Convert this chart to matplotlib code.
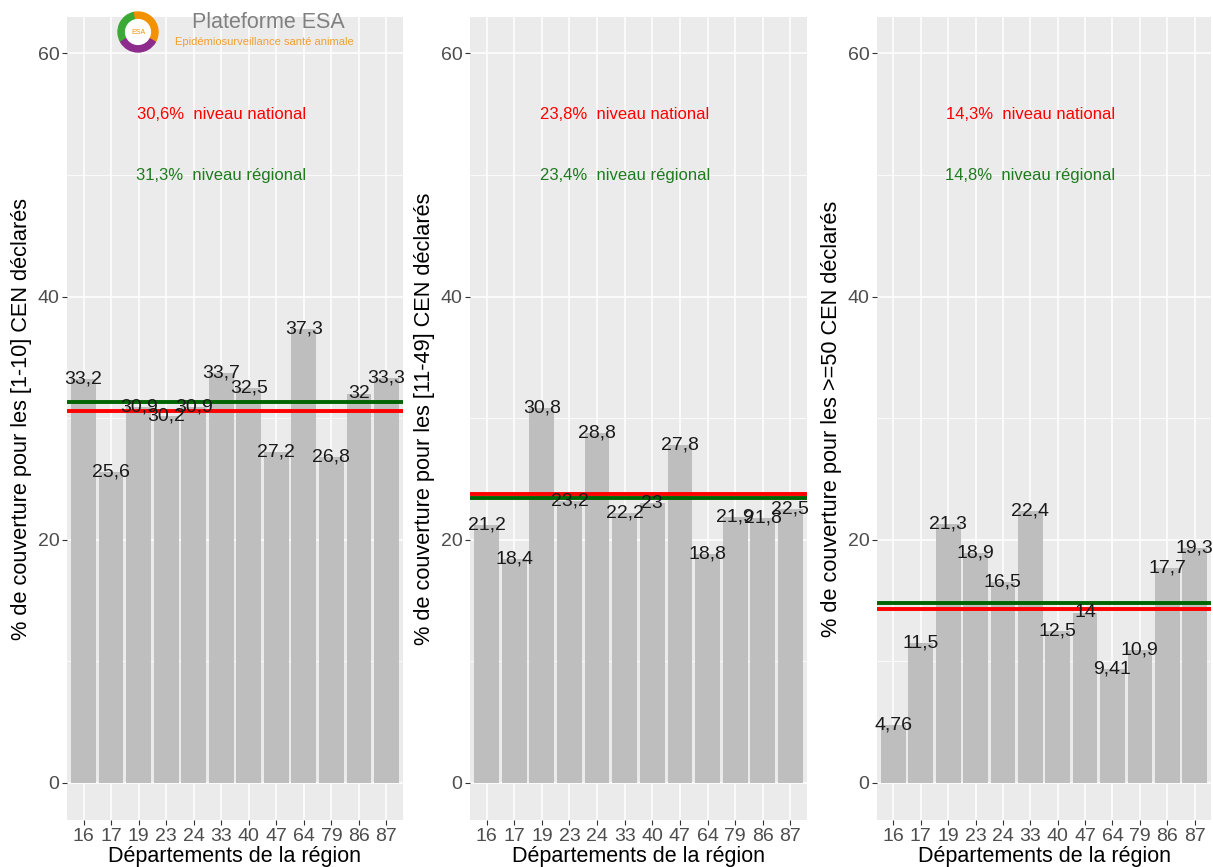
import matplotlib
matplotlib.use('Agg')
import matplotlib.pyplot as plt
from matplotlib.patches import Wedge, Circle
import numpy as np

plt.rcParams['font.family'] = ['Liberation Sans', 'DejaVu Sans']

depts = ['16', '17', '19', '23', '24', '33', '40', '47', '64', '79', '86', '87']

# couverture par tranche de CEN declares
cov_1_10 = [33.2, 25.6, 30.9, 30.2, 30.9, 33.7, 32.5, 27.2, 37.3, 26.8, 32, 33.3]
cov_11_49 = [21.2, 18.4, 30.8, 23.2, 28.8, 22.2, 23, 27.8, 18.8, 21.9, 21.8, 22.5]
cov_50 = [4.76, 11.5, 21.3, 18.9, 16.5, 22.4, 12.5, 14, 9.41, 10.9, 17.7, 19.3]

national = [30.6, 23.8, 14.3]
regional = [31.3, 23.4, 14.8]

ylabels = ['% de couverture pour les [1-10] CEN déclarés',
           '% de couverture pour les [11-49] CEN déclarés',
           '% de couverture pour les >=50 CEN déclarés']

def fmt(v):
    s = ('%.3g' % v).replace('.', ',')
    return s

W, H = 1213., 867.
fig = plt.figure(figsize=(W / 100, H / 100), dpi=100)

panels = [(67, 403), (470, 807), (877, 1211)]
bottom = 1 - 820 / H
height = (820 - 17) / H

allvals = [cov_1_10, cov_11_49, cov_50]
for k in range(3):
	l, r = panels[k]
	ax = fig.add_axes([l / W, bottom, (r - l) / W, height])
	ax.set_facecolor('#EBEBEB')
	for s in ax.spines.values():
		s.set_visible(False)
	x = np.arange(1, len(depts) + 1)
	ax.set_xlim(0.4, 12.6)
	ax.set_ylim(-3.05, 63)
	ax.set_yticks([0, 20, 40, 60])
	ax.set_yticks([10, 30, 50], minor=True)
	ax.set_xticks(x)
	ax.set_xticklabels(depts)
	ax.grid(True, which='major', color='white', lw=1.1)
	ax.grid(True, which='minor', axis='y', color='white', lw=0.55)
	ax.set_axisbelow(True)
	ax.tick_params(axis='both', which='major', labelsize=14, labelcolor='#4D4D4D',
	               color='#333333', length=3.5, width=0.8, pad=2)
	ax.tick_params(which='minor', length=0)
	ax.bar(x, allvals[k], width=0.9, color='#BEBEBE', zorder=2)
	ax.axhline(regional[k], color='#006400', lw=2.8, zorder=3)
	ax.axhline(national[k], color='#FF0000', lw=2.8, zorder=3)
	for xi, v in zip(x, allvals[k]):
		ax.text(xi, v, fmt(v), ha='center', va='center', fontsize=14, color='#1A1A1A', zorder=4)
	ax.text(6, 55, ('%.1f' % national[k]).replace('.', ',') + '%  niveau national',
	        ha='center', va='center', fontsize=12, color='#FF0000')
	ax.text(6, 50, ('%.1f' % regional[k]).replace('.', ',') + '%  niveau régional',
	        ha='center', va='center', fontsize=12, color='#1E7B1E')
	ax.set_xlabel('Départements de la région', fontsize=15.5, labelpad=1)
	ax.set_ylabel(ylabels[k], fontsize=15.7, labelpad=4)

# logo Plateforme ESA
lax = fig.add_axes([112 / W, 1 - 54 / H, 52 / W, 44 / H])
lax.set_xlim(-1.3, 1.3)
lax.set_ylim(-1.1, 1.1)
lax.set_aspect('equal')
lax.axis('off')
lax.add_patch(Wedge((0, 0), 1.0, 100, 210, width=0.35, color='#3AAA35'))
lax.add_patch(Wedge((0, 0), 1.0, -30, 100, width=0.35, color='#F39200'))
lax.add_patch(Wedge((0, 0), 1.0, 210, 330, width=0.35, color='#8E2C8E'))
lax.add_patch(Circle((0, 0), 0.62, color='white'))
lax.text(0, -0.05, 'ESA', ha='center', va='center', fontsize=5, color='#F39200')
fig.text(268 / W, 1 - 22 / H, 'Plateforme ESA', ha='center', va='center',
         fontsize=15.5, color='#808080')
fig.text(264 / W, 1 - 42 / H, 'Epidémiosurveillance santé animale', ha='center',
         va='center', fontsize=8, color='#F0A030')

fig.savefig('out.png', dpi=100)
